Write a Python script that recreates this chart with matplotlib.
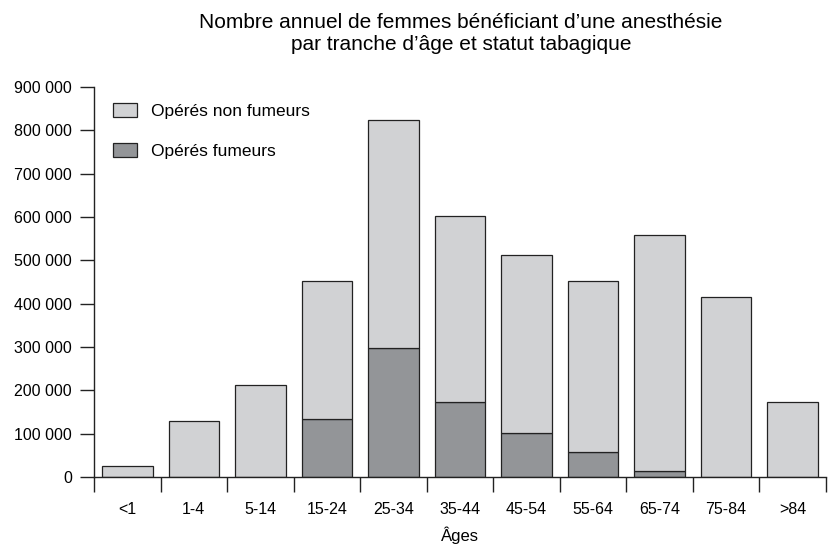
import matplotlib
matplotlib.use("Agg")
from matplotlib import pyplot as plt
from matplotlib.ticker import FixedLocator, FuncFormatter
import numpy as np

# données
ages = ["<1", "1-4", "5-14", "15-24", "25-34", "35-44", "45-54", "55-64", "65-74", "75-84", ">84"]
fumeurs = [0, 0, 0, 135000, 298000, 173000, 102000, 57000, 13000, 0, 0]
non_fumeurs = [25000, 129000, 213000, 318000, 526000, 430000, 411000, 396000, 546000, 415000, 173000]
y_ticks = [0, 100000, 200000, 300000, 400000, 500000, 600000, 700000, 800000, 900000]

plt.rcParams['font.family'] = ['Liberation Sans', 'DejaVu Sans']

gris_clair = "#d1d2d4"
gris_fonce = "#939598"

fig = plt.figure(figsize=(8.33, 5.44), dpi=100)
ax = fig.add_axes([94 / 833, 67 / 544, 732 / 833, 390 / 544])

x = np.arange(len(ages))
ax.bar(x, fumeurs, width=0.76, color=gris_fonce, edgecolor="#222222", linewidth=0.9,
       label="Opérés fumeurs")
ax.bar(x, non_fumeurs, width=0.76, bottom=fumeurs, color=gris_clair, edgecolor="#222222",
       linewidth=0.9, label="Opérés non fumeurs")

ax.set_xlim(-0.5, len(ages) - 0.5)
ax.set_ylim(0, 900000)

ax.spines["top"].set_visible(False)
ax.spines["right"].set_visible(False)
for s in ("left", "bottom"):
    ax.spines[s].set_linewidth(1.0)
    ax.spines[s].set_color("#222222")

ax.yaxis.set_major_locator(FixedLocator(y_ticks))
ax.yaxis.set_major_formatter(FuncFormatter(lambda v, p: f"{v:,.0f}".replace(",", " ")))
ax.tick_params(axis="y", length=10, width=1.0, color="#222222", pad=6, labelsize=11.5)

ax.set_xticks(x)
ax.set_xticklabels(ages)
ax.set_xticks(np.arange(len(ages) + 1) - 0.5, minor=True)
ax.tick_params(axis="x", which="major", length=0, pad=18, labelsize=11.5)
ax.tick_params(axis="x", which="minor", length=11, width=1.0, color="#222222")
ax.set_xlabel("Âges", fontsize=12, labelpad=7)

handles, labels = ax.get_legend_handles_labels()
ax.legend(handles[::-1], labels[::-1], loc="upper left", bbox_to_anchor=(19 / 732, 1 - 16 / 390),
          frameon=False, fontsize=12.5, borderpad=0, borderaxespad=0,
          handlelength=1.4, handleheight=0.9, handletextpad=0.8, labelspacing=1.35)

fig.text(461 / 833, 1 - 34 / 544,
         "Nombre annuel de femmes bénéficiant d’une anesthésie\npar tranche d’âge et statut tabagique",
         ha="center", va="center", fontsize=15, linespacing=1.2)

plt.savefig("out.png", dpi=100)
